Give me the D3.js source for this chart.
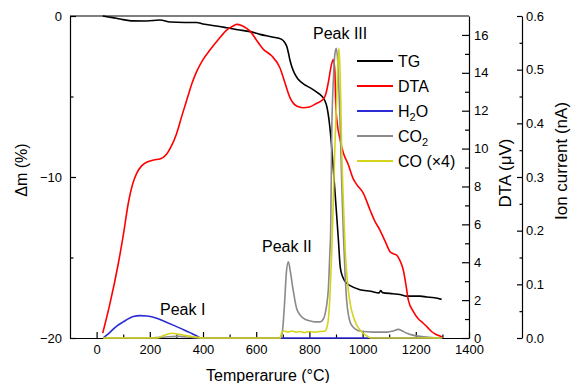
<!DOCTYPE html>
<html lang="en">
<head>
  <meta charset="UTF-8">
  <title>TG / DTA / MS</title>
  <script src="https://d3js.org/d3.v7.min.js"></script>
  <style>
    body { margin: 0; background: #fff; }
    svg { font-family: "Liberation Sans", Arial, sans-serif; }
    .axis path, .axis line { stroke: #000; stroke-width: 1.2; }
    .axis text { font-size: 13px; fill: #000; font-family: "Liberation Sans", Arial, sans-serif; }
    .curve { fill: none; stroke-width: 1.6; stroke-linejoin: round; }
  </style>
</head>
<body>
  <div id="chart"></div>
  <script>
    // Temperature (°C), value pairs
    const tgData = [[23,0],[60,-0.1],[88,-0.19],[130,-0.3],[188,-0.31],[238,-0.25],[276,-0.37],[330,-0.4],[376,-0.4],
      [400,-0.5],[450,-0.62],[489,-0.73],[530,-0.85],[577,-0.97],[614,-1.14],[660,-1.3],[696,-1.45],[708,-1.66],
      [715,-1.9],[721,-2.28],[727,-2.75],[733,-3.1],[745,-3.6],[758,-3.93],[780,-4.25],[802,-4.45],[825,-4.7],
      [846,-4.97],[858,-5.25],[865,-5.59],[875,-6.63],[882,-7.8],[890,-9.5],[900,-11.8],[909,-13.9],
      [916,-15.6],[925,-16.2],[940,-16.6],[953,-16.75],[990,-17.0],[1030,-17.1],[1062,-17.2],[1068,-17.05],
      [1075,-17.18],[1114,-17.25],[1140,-17.3],[1166,-17.4],[1216,-17.4],[1241,-17.45],[1270,-17.5],[1297,-17.6]];

    const dtaData = [[23,0.26],[50,1.8],[82,3.96],[100,5.4],[119,7.1],[135,8.1],[151,8.7],[170,9.1],[188,9.28],
      [215,9.4],[238,9.45],[263,9.7],[280,10.1],[301,10.8],[320,11.7],[339,12.57],[360,13.5],[376,14.06],[400,14.7],
      [426,15.2],[460,15.8],[489,16.26],[510,16.45],[527,16.56],[545,16.5],[564,16.35],[577,16.2],[600,15.75],
      [627,15.24],[658,14.9],[689,14.27],[708,13.48],[727,12.69],[752,12.25],[777,12.16],[800,12.2],[827,12.39],
      [852,12.6],[862,12.9],[871,13.48],[884,14.5],[890,14.7],[893,14.5],[896,14.0],[899,12.39],[905,11.3],
      [915,10.5],[928,9.75],[945,9.2],[965,8.4],[978,8.1],
      [1003,7.64],[1028,6.76],[1045,6.2],[1065,5.7],[1085,5.1],[1103,4.56],[1115,4.45],[1128,4.38],[1140,4.1],
      [1153,3.59],[1163,2.8],[1172,2.0],[1191,1.39],[1210,1.0],[1228,0.78],[1245,0.55],[1260,0.33],[1275,0.2],
      [1291,0.1],[1300,0.05]];

    const h2oData = [[25,0],[45,0.008],[70,0.02],[100,0.03],[138,0.04],[163,0.0417],[190,0.041],[226,0.037],
      [260,0.03],[288,0.024],[320,0.017],[351,0.01],[375,0.004],[395,0],[700,0],[1000,0],[1300,0]];

    const co2Data = [[25,0],[200,0],[260,0.002],[310,0.003],[360,0.001],[400,0],[690,0],[698,0.01],[706,0.06],
      [714,0.125],[721,0.142],[728,0.125],[739,0.089],[752,0.055],[765,0.043],[777,0.037],[800,0.032],[820,0.03],
      [840,0.03],[852,0.035],[859,0.045],[866,0.065],[871,0.09],[877,0.16],[880,0.2],[884,0.38],[890,0.48],
      [896,0.53],[901,0.54],[906,0.52],[912,0.45],[916,0.39],[922,0.28],[928,0.19],[934,0.12],[940,0.07],
      [946,0.045],[953,0.03],[965,0.02],[978,0.015],[990,0.013],[1040,0.011],[1090,0.011],[1115,0.013],
      [1134,0.016],[1150,0.013],[1166,0.009],[1216,0.003],[1260,0.001],[1291,0]];

    const coData = [[25,0],[226,0],[250,0.004],[282,0.0088],[310,0.007],[340,0.004],[370,0.002],[400,0],[690,0],
      [696,0.011],[705,0.013],[720,0.011],[735,0.013],[750,0.011],[765,0.012],[780,0.01],[800,0.012],[820,0.011],
      [840,0.012],[859,0.013],[866,0.02],[871,0.034],[877,0.076],[884,0.16],[890,0.26],[896,0.36],[903,0.45],
      [908,0.52],[911,0.54],[915,0.5],[918,0.44],[921,0.36],[928,0.25],[935,0.16],[942,0.11],[953,0.065],
      [965,0.04],[978,0.024],[990,0.015],[1010,0.006],[1030,0],[1300,0]];

    const xTicks = [0, 200, 400, 600, 800, 1000, 1200, 1400];
    const xMinor = [100, 300, 500, 700, 900, 1100, 1300];
    const tgTicks = [-20, -10, 0];
    const tgMinor = [-15, -5];
    const dtaTicks = [0, 2, 4, 6, 8, 10, 12, 14, 16];
    const dtaMinor = [1, 3, 5, 7, 9, 11, 13, 15];
    const ionTicks = [0, 0.1, 0.2, 0.3, 0.4, 0.5, 0.6];
    const ionMinor = [0.05, 0.15, 0.25, 0.35, 0.45, 0.55];

    const series = [
      { name: "TG", data: tgData, axis: "tg", color: "#000000" },
      { name: "DTA", data: dtaData, axis: "dta", color: "#ff0000" },
      { name: "H2O", data: h2oData, axis: "ion", color: "#2b2bd6" },
      { name: "CO2", data: co2Data, axis: "ion", color: "#8a8a8a" },
      { name: "CO", data: coData, axis: "ion", color: "#d4d41c" }
    ];

    // layout
    const W = 572, H = 383;
    const plotL = 70, plotR = 469, plotT = 16, plotB = 338;
    const ionX = 522;

    const svg = d3.select("#chart").append("svg")
      .attr("width", W).attr("height", H);

    const x = d3.scaleLinear().domain([-100, 1400]).range([plotL, plotR]);
    const y = {
      tg: d3.scaleLinear().domain([-20, 0]).range([plotB, plotT]),
      dta: d3.scaleLinear().domain([0, 17]).range([plotB, plotT]),
      ion: d3.scaleLinear().domain([0, 0.6]).range([plotB, plotT])
    };

    function addAxis(gen, tx, ty, major, minor, minorSize, fmt) {
      const g = svg.append("g").attr("class", "axis")
        .attr("transform", `translate(${tx},${ty})`);
      g.call(gen.tickValues(major).tickSizeOuter(0).tickFormat(fmt || d3.format("d")));
      const m = svg.append("g").attr("class", "axis")
        .attr("transform", `translate(${tx},${ty})`);
      m.call(gen.tickValues(minor).tickSize(minorSize).tickFormat(""));
      m.select(".domain").remove();
      return g;
    }

    // bottom
    addAxis(d3.axisBottom(x).tickSize(-6).tickPadding(7), 0, plotB, xTicks, xMinor, -3.5);
    // left (mass)
    addAxis(d3.axisLeft(y.tg).tickSize(-6).tickPadding(8), plotL, 0, tgTicks, tgMinor, -3.5);
    // right (DTA)
    addAxis(d3.axisRight(y.dta).tickSize(-7).tickPadding(5), plotR, 0, dtaTicks, dtaMinor, -4);
    // far right (ion current)
    addAxis(d3.axisRight(y.ion).tickSize(-5).tickPadding(4), ionX, 0, ionTicks, ionMinor, -2.5, d3.format(".1f"));

    // top frame line
    svg.append("line")
      .attr("x1", plotL).attr("x2", plotR).attr("y1", plotT).attr("y2", plotT)
      .attr("stroke", "#000").attr("stroke-width", 1.2);

    // curves
    series.forEach(s => {
      const line = d3.line()
        .x(d => x(d[0]))
        .y(d => y[s.axis](d[1]))
        .curve(d3.curveMonotoneX);
      svg.append("path")
        .datum(s.data)
        .attr("class", "curve")
        .attr("stroke", s.color)
        .attr("d", line);
    });

    // axis titles
    svg.append("text")
      .attr("transform", "translate(27,170) rotate(-90)")
      .attr("text-anchor", "middle").attr("font-size", 16)
      .text("Δm (%)");
    svg.append("text")
      .attr("x", 268).attr("y", 381)
      .attr("text-anchor", "middle").attr("font-size", 16)
      .text("Temperarure (°C)");
    svg.append("text")
      .attr("transform", "translate(511,173) rotate(-90)")
      .attr("text-anchor", "middle").attr("font-size", 17)
      .text("DTA (μV)");
    svg.append("text")
      .attr("transform", "translate(567,161) rotate(-90)")
      .attr("text-anchor", "middle").attr("font-size", 17)
      .text("Ion current (nA)");

    // legend: [text, isSubscript]
    const labels = [
      [["TG"]],
      [["DTA"]],
      [["H"], ["2", true], ["O"]],
      [["CO"], ["2", true]],
      [["CO (×4)"]]
    ];
    const legend = svg.append("g").attr("id", "legend");
    series.forEach((s, i) => {
      const cy = 61 + i * 25;
      legend.append("line")
        .attr("x1", 357).attr("x2", 393).attr("y1", cy).attr("y2", cy)
        .attr("stroke", s.color).attr("stroke-width", 1.8);
      const t = legend.append("text")
        .attr("x", 398).attr("y", cy + 6).attr("font-size", 16);
      let shifted = false;
      labels[i].forEach(p => {
        const ts = t.append("tspan").text(p[0]);
        if (p[1]) { ts.attr("font-size", 11).attr("dy", 4); shifted = true; }
        else if (shifted) { ts.attr("dy", -4); shifted = false; }
      });
    });

    // peak labels
    const peaks = [["Peak I", 160, 315], ["Peak II", 262, 252], ["Peak III", 313, 39]];
    peaks.forEach(p => {
      svg.append("text").attr("x", p[1]).attr("y", p[2])
        .attr("font-size", 16).text(p[0]);
    });
  </script>
</body>
</html>
